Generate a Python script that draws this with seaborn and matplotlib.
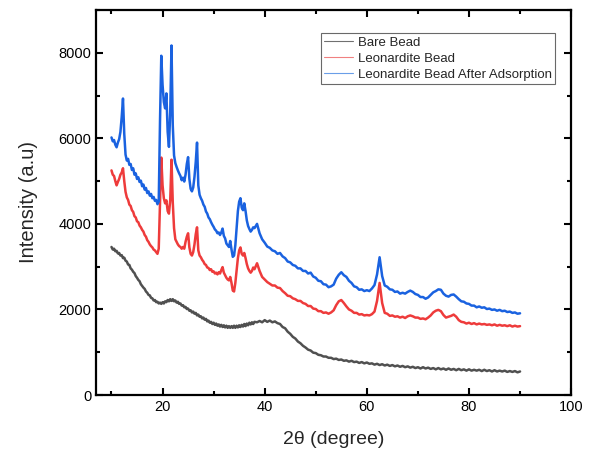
import numpy as np
import pandas as pd
import matplotlib
matplotlib.use("Agg")
import matplotlib.pyplot as plt
import seaborn as sns
from matplotlib.ticker import MultipleLocator

# 2-theta sampling grid: fine steps up to 37.75, then half-degree steps to 90
theta_fine = np.arange(10.0, 38.0, 0.25)
theta_coarse = np.arange(38.0, 90.01, 0.5)

# Bare Bead (grey)
bare_fine = [
    3460, 3400, 3420, 3360, 3370, 3310, 3320, 3260,
    3270, 3200, 3210, 3140, 3120, 3050, 3040, 2960,
    2930, 2880, 2850, 2780, 2740, 2690, 2660, 2590,
    2550, 2510, 2480, 2420, 2390, 2340, 2330, 2270,
    2260, 2210, 2220, 2170, 2180, 2140, 2160, 2130,
    2170, 2140, 2190, 2170, 2220, 2190, 2240, 2200,
    2240, 2190, 2210, 2160, 2180, 2130, 2140, 2090,
    2100, 2050, 2060, 2010, 2020, 1970, 1980, 1930,
    1950, 1900, 1920, 1860, 1880, 1830, 1840, 1790,
    1810, 1760, 1780, 1720, 1740, 1690, 1710, 1660,
    1690, 1640, 1670, 1620, 1650, 1600, 1640, 1590,
    1630, 1580, 1620, 1570, 1610, 1570, 1610, 1570,
    1620, 1570, 1620, 1580, 1630, 1590, 1640, 1600,
    1660, 1610, 1670, 1630, 1690, 1650, 1700, 1660,
]
bare_coarse = [
    1710, 1700, 1730, 1700, 1750, 1710, 1740, 1700, 1720, 1680,
    1660, 1590, 1560, 1480, 1430, 1360, 1320, 1250, 1210, 1150,
    1110, 1060, 1040, 990, 980, 940, 930, 900, 900, 870,
    870, 840, 850, 820, 830, 800, 810, 780, 800, 770,
    780, 750, 770, 740, 760, 730, 740, 710, 730, 700,
    720, 690, 710, 680, 700, 670, 690, 660, 680, 650,
    670, 640, 660, 630, 650, 620, 650, 620, 640, 610,
    630, 600, 630, 600, 620, 590, 620, 590, 610, 580,
    610, 580, 600, 570, 600, 570, 590, 570, 590, 560,
    590, 560, 580, 550, 580, 550, 570, 550, 570, 540,
    560, 540, 560, 530, 550,
]

# Leonardite Bead (red)
leo_fine = [
    5250, 5150, 5120, 5000, 4900, 4980, 5050, 5150,
    5200, 5300, 5000, 4750, 4620, 4560, 4450, 4420,
    4320, 4280, 4180, 4150, 4060, 4040, 3960, 3920,
    3860, 3820, 3740, 3700, 3620, 3580, 3520, 3480,
    3450, 3400, 3380, 3340, 3300, 3420, 4500, 5550,
    4900, 4600, 4480, 4550, 4300, 4240, 4550, 5500,
    4500, 3900, 3640, 3580, 3520, 3480, 3460, 3420,
    3460, 3420, 3580, 3700, 3780, 3450, 3300, 3260,
    3340, 3520, 3760, 3920, 3380, 3260, 3220, 3160,
    3120, 3060, 3040, 2980, 2970, 2920, 2940, 2880,
    2890, 2840, 2860, 2820, 2870, 2840, 2920, 2990,
    2860, 2800, 2740, 2700, 2680, 2760, 2620, 2440,
    2420, 2620, 2900, 3200, 3380, 3450, 3300, 3260,
    3320, 3200, 3060, 2960, 2900, 2860, 2900, 2980,
]
leo_coarse = [
    2940, 3080, 2900, 2760, 2700, 2640, 2600, 2560, 2560, 2510,
    2500, 2430, 2380, 2320, 2310, 2260, 2240, 2200, 2200, 2150,
    2130, 2080, 2080, 2020, 2010, 1960, 1960, 1920, 1930, 1900,
    1930, 1980, 2100, 2190, 2220, 2150, 2070, 2000, 1970, 1920,
    1920, 1880, 1890, 1860, 1870, 1860, 1890, 1950, 2200, 2620,
    2150, 1920, 1900, 1850, 1860, 1830, 1840, 1810, 1830, 1800,
    1840, 1860, 1840, 1810, 1810, 1780, 1790, 1770, 1810, 1860,
    1930, 1970, 1990, 1960, 1870, 1810, 1830, 1850, 1880, 1830,
    1750, 1710, 1700, 1670, 1690, 1660, 1680, 1650, 1670, 1650,
    1660, 1640, 1650, 1630, 1650, 1620, 1640, 1620, 1630, 1610,
    1630, 1600, 1620, 1600, 1610,
]

# Leonardite Bead After Adsorption (blue)
ads_fine = [
    6020, 5930, 5960, 5850, 5790, 5900, 5980, 6150,
    6500, 6930, 6100, 5620, 5480, 5520, 5380, 5400,
    5260, 5300, 5150, 5180, 5050, 5090, 4980, 5010,
    4880, 4920, 4800, 4840, 4720, 4760, 4660, 4700,
    4600, 4630, 4540, 4560, 4460, 4520, 6400, 7930,
    7250, 6850, 6700, 7050, 6150, 5800, 6600, 8170,
    6300, 5600, 5420, 5330, 5250, 5180, 5120, 5020,
    5080, 4990, 5150, 5400, 5560, 5050, 4820, 4760,
    4850, 5100, 5450, 5900, 4900, 4680, 4600, 4540,
    4450, 4400, 4290, 4240, 4150, 4110, 4040, 3980,
    3930, 3870, 3840, 3780, 3800, 3740, 3800, 3890,
    3720, 3660, 3540, 3500, 3460, 3600, 3400, 3230,
    3260, 3500, 3900, 4300, 4520, 4600, 4380, 4320,
    4480, 4300, 4080, 3950, 3880, 3820, 3860, 3920,
]
ads_coarse = [
    3900, 4000, 3780, 3640, 3560, 3470, 3440, 3380, 3360, 3300,
    3320, 3240, 3200, 3120, 3100, 3040, 3020, 2960, 2960, 2900,
    2900, 2840, 2860, 2770, 2740, 2670, 2660, 2590, 2580, 2520,
    2540, 2580, 2720, 2810, 2870, 2800, 2760, 2670, 2620, 2540,
    2520, 2460, 2470, 2430, 2450, 2430, 2490, 2570, 2820, 3220,
    2780, 2560, 2530, 2470, 2460, 2410, 2420, 2370, 2390, 2370,
    2410, 2440, 2410, 2360, 2340, 2290, 2290, 2250, 2280, 2340,
    2400, 2430, 2470, 2460, 2370, 2320, 2300, 2340, 2350, 2300,
    2240, 2190, 2180, 2140, 2130, 2090, 2090, 2050, 2070, 2040,
    2050, 2010, 2020, 1990, 2000, 1970, 1990, 1960, 1970, 1940,
    1950, 1920, 1930, 1900, 1910,
]

labels = ["Bare Bead", "Leonardite Bead", "Leonardite Bead After Adsorption"]
colors = ["#505050", "#ee3b3b", "#1a62e0"]
legend_colors = ["#707070", "#f08080", "#6a9ee8"]

two_theta = np.concatenate([theta_fine, theta_coarse])
series = [bare_fine + bare_coarse, leo_fine + leo_coarse, ads_fine + ads_coarse]
frames = []
for lab, vals in zip(labels, series):
    assert len(vals) == len(two_theta), (lab, len(vals), len(two_theta))
    frames.append(pd.DataFrame({"two_theta": two_theta, "intensity": vals, "sample": lab}))
df = pd.concat(frames, ignore_index=True)

sns.set_theme(style="ticks")
plt.rcParams["font.family"] = ["Liberation Sans", "DejaVu Sans"]

fig = plt.figure(figsize=(5.9, 4.53), dpi=100)
ax = fig.add_axes([0.163, 0.128, 0.805, 0.85])

sns.lineplot(data=df, x="two_theta", y="intensity", hue="sample",
             hue_order=labels, palette=colors, linewidth=1.8, sort=False,
             estimator=None, ax=ax)

ax.set_xlim(7, 100)
ax.set_ylim(0, 9000)
ax.xaxis.set_major_locator(MultipleLocator(20))
ax.xaxis.set_minor_locator(MultipleLocator(10))
ax.yaxis.set_major_locator(MultipleLocator(2000))
ax.yaxis.set_minor_locator(MultipleLocator(1000))
ax.set_xticks([20, 40, 60, 80, 100])
ax.tick_params(which="both", direction="in", top=True, right=True,
               labelsize=10.5, width=1.5, colors="black")
ax.tick_params(which="major", length=5)
ax.tick_params(which="minor", length=3)
for sp in ax.spines.values():
    sp.set_linewidth(1.6)
    sp.set_color("black")

ax.set_xlabel("2θ (degree)", fontsize=14, labelpad=12)
ax.set_ylabel("Intensity (a.u)", fontsize=14.5, labelpad=15)

leg = ax.legend(loc="upper right", bbox_to_anchor=(0.966, 0.94), fontsize=9.5,
                frameon=True, fancybox=False, handlelength=2.2,
                borderpad=0.25, labelspacing=0.3, handletextpad=0.35,
                borderaxespad=0.0)
leg.get_frame().set_edgecolor("#444444")
leg.get_frame().set_linewidth(0.8)
for line, c in zip(leg.get_lines(), legend_colors):
    line.set_linewidth(0.8)
    line.set_color(c)

fig.savefig("out.png", dpi=100)
